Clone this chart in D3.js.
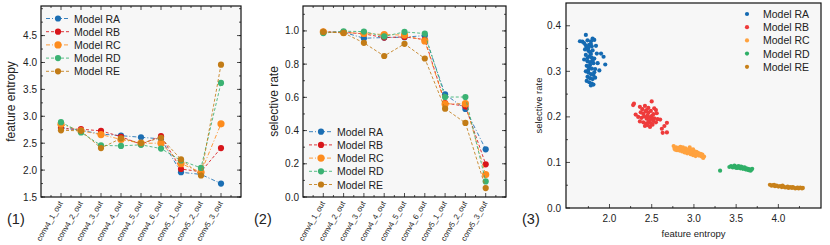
<!DOCTYPE html>
<html>
<head>
<meta charset="utf-8">
<script src="https://cdn.jsdelivr.net/npm/d3@7"></script>
<style>
  body { margin: 0; background: #fff; }
  svg text { font-family: "Liberation Sans", Arial, sans-serif; fill: #222; }
</style>
</head>
<body>
<svg id="chart" width="830" height="245"></svg>
<script>
// layers of the network (x categories of panels 1 and 2)
var layers = ["conv4_1_out", "conv4_2_out", "conv4_3_out", "conv4_4_out", "conv4_5_out",
              "conv4_6_out", "conv5_1_out", "conv5_2_out", "conv5_3_out"];
var models = ["Model RA", "Model RB", "Model RC", "Model RD", "Model RE"];

// panel (1) feature entropy per layer
var entropyRA = [2.79, 2.74, 2.67, 2.64, 2.61, 2.58, 1.96, 1.92, 1.75];
var entropyRB = [2.77, 2.76, 2.73, 2.62, 2.48, 2.63, 2.02, 1.97, 2.41];
var entropyRC = [2.85, 2.73, 2.66, 2.57, 2.50, 2.50, 2.12, 1.96, 2.86];
var entropyRD = [2.89, 2.70, 2.46, 2.45, 2.47, 2.40, 2.18, 2.04, 3.62];
var entropyRE = [2.74, 2.73, 2.41, 2.59, 2.50, 2.60, 2.20, 1.90, 3.96];

// panel (2) selective rate per layer
var rateRA = [0.994, 0.992, 0.956, 0.960, 0.962, 0.972, 0.618, 0.530, 0.287];
var rateRB = [0.994, 0.992, 0.982, 0.960, 0.964, 0.948, 0.566, 0.546, 0.197];
var rateRC = [0.994, 0.990, 0.985, 0.978, 0.975, 0.940, 0.560, 0.562, 0.135];
var rateRD = [0.987, 0.998, 0.996, 0.967, 0.994, 0.984, 0.602, 0.602, 0.094];
var rateRE = [0.994, 0.988, 0.928, 0.849, 0.922, 0.834, 0.532, 0.446, 0.054];

// panel (3) [feature entropy, selective rate] samples
var scatterRA = [[1.72,0.380],[1.65,0.366],[1.68,0.365],[1.70,0.362],[1.74,0.368],[1.78,0.366],[1.80,0.372],
  [1.82,0.369],[1.76,0.358],[1.73,0.352],[1.79,0.355],[1.84,0.356],[1.71,0.348],[1.75,0.345],[1.77,0.342],
  [1.80,0.346],[1.85,0.339],[1.90,0.339],[1.93,0.332],[1.72,0.336],[1.76,0.333],[1.79,0.330],[1.82,0.328],
  [1.70,0.326],[1.74,0.322],[1.77,0.320],[1.81,0.318],[1.86,0.318],[1.95,0.315],[1.73,0.312],[1.76,0.309],
  [1.79,0.306],[1.83,0.305],[1.88,0.302],[1.72,0.300],[1.75,0.297],[1.78,0.294],[1.81,0.292],[1.74,0.288],
  [1.77,0.285],[1.80,0.283],[1.83,0.286],[1.73,0.279],[1.76,0.276],[1.79,0.273],[1.81,0.271],[1.78,0.269],
  [1.75,0.351],[1.78,0.338],[1.74,0.329],[1.80,0.324],[1.77,0.314],[1.75,0.303],[1.82,0.298],[1.78,0.360],
  [1.72,0.357]];
var scatterRB = [[2.28,0.226],[2.29,0.229],[2.31,0.205],[2.36,0.222],[2.39,0.217],[2.42,0.224],[2.46,0.220],
  [2.50,0.234],[2.53,0.219],[2.55,0.215],[2.37,0.210],[2.40,0.207],[2.43,0.212],[2.46,0.209],[2.49,0.213],
  [2.52,0.206],[2.56,0.208],[2.34,0.200],[2.38,0.198],[2.41,0.201],[2.44,0.196],[2.47,0.199],[2.50,0.202],
  [2.53,0.197],[2.57,0.195],[2.60,0.194],[2.36,0.190],[2.40,0.188],[2.43,0.185],[2.46,0.189],[2.49,0.186],
  [2.52,0.191],[2.55,0.188],[2.42,0.180],[2.45,0.182],[2.48,0.178],[2.51,0.183],[2.62,0.174],[2.65,0.180],
  [2.68,0.187],[2.63,0.165],[2.68,0.166],[2.45,0.203],[2.48,0.193],[2.44,0.215],[2.51,0.196]];
var scatterRC = [[2.76,0.136],[2.77,0.130],[2.79,0.133],[2.80,0.127],[2.82,0.132],[2.83,0.126],[2.85,0.130],
  [2.86,0.124],[2.88,0.128],[2.89,0.122],[2.90,0.131],[2.91,0.126],[2.92,0.120],[2.94,0.129],[2.95,0.123],
  [2.96,0.118],[2.97,0.127],[2.98,0.121],[2.99,0.116],[3.00,0.125],[3.01,0.119],[3.02,0.114],[3.03,0.123],
  [3.04,0.117],[3.05,0.121],[3.06,0.115],[3.08,0.119],[3.09,0.113],[3.10,0.117],[3.12,0.113],[3.11,0.110],
  [2.84,0.134],[2.87,0.133],[2.93,0.125],[2.97,0.124],[3.01,0.122],[2.81,0.129],[2.78,0.128],[2.95,0.133],
  [2.99,0.129]];
var scatterRD = [[3.31,0.082],[3.42,0.090],[3.44,0.092],[3.46,0.089],[3.48,0.093],[3.49,0.090],[3.51,0.091],
  [3.52,0.088],[3.54,0.090],[3.55,0.087],[3.57,0.089],[3.58,0.086],[3.59,0.088],[3.60,0.089],[3.61,0.085],
  [3.62,0.087],[3.63,0.084],[3.64,0.086],[3.65,0.083],[3.66,0.085],[3.67,0.082],[3.68,0.084],[3.69,0.086],
  [3.50,0.088],[3.56,0.091],[3.53,0.092],[3.47,0.091]];
var scatterRE = [[3.90,0.051],[3.92,0.049],[3.94,0.050],[3.96,0.048],[3.98,0.049],[4.00,0.047],[4.02,0.048],
  [4.04,0.046],[4.06,0.047],[4.08,0.045],[4.10,0.046],[4.12,0.044],[4.14,0.046],[4.16,0.044],[4.18,0.045],
  [4.20,0.043],[4.22,0.044],[4.24,0.043],[4.26,0.045],[4.28,0.043],[4.29,0.044],[3.95,0.051],[4.05,0.049],
  [4.11,0.047],[4.17,0.046],[4.23,0.045]];

var entropyTicks = [1.5, 2.0, 2.5, 3.0, 3.5, 4.0, 4.5];
var rateTicks = [0.0, 0.2, 0.4, 0.6, 0.8, 1.0];
var scatterXTicks = [2.0, 2.5, 3.0, 3.5, 4.0];
var scatterYTicks = [0.0, 0.1, 0.2, 0.3, 0.4];

var lineColors = ["#1b6eb3", "#d8161b", "#fd8c1e", "#3bb273", "#c27c17"];
var dotColors = ["#146ab2", "#ee3b3b", "#ffa23f", "#2faf67", "#c8811a"];
var dashes = ["4,2,1,2", "3,2", "4,2,1,2", "3,2", "3,2"];

var svg = d3.select("#chart");

// frame with inward major/minor ticks; all four sides for the line panels
function frame(g, x, y, xMajor, xMinor, yMajor, yMinor, allSides) {
  var x0 = x.range()[0], x1 = x.range()[1], y0 = y.range()[0], y1 = y.range()[1];
  g.append("rect").attr("x", x0).attr("y", y1).attr("width", x1 - x0).attr("height", y0 - y1)
    .attr("fill", "#f7f7f7");
  var t = g.append("g").attr("stroke", "#222").attr("stroke-width", 0.8);
  function ticks(vals, len) {
    vals.forEach(function(v) {
      var px = x(v);
      t.append("line").attr("x1", px).attr("x2", px).attr("y1", y0).attr("y2", y0 - len);
      if (allSides) t.append("line").attr("x1", px).attr("x2", px).attr("y1", y1).attr("y2", y1 + len);
    });
  }
  function yticks(vals, len) {
    vals.forEach(function(v) {
      var py = y(v);
      t.append("line").attr("y1", py).attr("y2", py).attr("x1", x0).attr("x2", x0 + len);
      if (allSides) t.append("line").attr("y1", py).attr("y2", py).attr("x1", x1).attr("x2", x1 - len);
    });
  }
  ticks(xMajor, 4); ticks(xMinor, 2);
  yticks(yMajor, 4); yticks(yMinor, 2);
}

function border(g, x, y) {
  var x0 = x.range()[0], x1 = x.range()[1], y0 = y.range()[0], y1 = y.range()[1];
  g.append("rect").attr("x", x0).attr("y", y1).attr("width", x1 - x0).attr("height", y0 - y1)
    .attr("fill", "none").attr("stroke", "#111").attr("stroke-width", 1.2);
}

function minorBetween(domain, step) {
  var out = [];
  for (var v = Math.ceil(domain[0] / step - 1e-9) * step; v <= domain[1] + 1e-9; v += step) out.push(+v.toFixed(4));
  return out;
}

function linePanel(left, right, yDomain, yMajor, yMinorStep, series, yLabel, labelX, legendPos, tag, tagX) {
  var g = svg.append("g");
  var x = d3.scaleLinear().domain([-1, 9]).range([left, right]);
  var y = d3.scaleLinear().domain(yDomain).range([197, 6]);
  var idx = d3.range(layers.length);
  frame(g, x, y, idx, minorBetween([-0.9, 8.9], 0.5).filter(function(v) { return v % 1 !== 0; }),
        yMajor, minorBetween(yDomain, yMinorStep), true);

  series.forEach(function(vals, i) {
    var line = d3.line().x(function(d, j) { return x(j); }).y(function(d) { return y(d); });
    g.append("path").attr("d", line(vals)).attr("fill", "none").attr("stroke", lineColors[i])
      .attr("stroke-width", 1).attr("stroke-dasharray", dashes[i]).attr("opacity", 0.85);
    g.selectAll(null).data(vals).enter().append("circle")
      .attr("cx", function(d, j) { return x(j); }).attr("cy", function(d) { return y(d); })
      .attr("r", i === 2 ? 3.6 : 3.1).attr("fill", lineColors[i]);
  });
  border(g, x, y);

  g.selectAll(null).data(yMajor).enter().append("text")
    .attr("x", left - 4).attr("y", function(d) { return y(d) + 3.5; })
    .attr("text-anchor", "end").attr("font-size", 10).text(function(d) { return d.toFixed(1); });
  g.selectAll(null).data(layers).enter().append("text")
    .attr("transform", function(d, j) { return "translate(" + (x(j) + 2) + ",203) rotate(-60)"; })
    .attr("text-anchor", "end").attr("font-size", 7.8).text(function(d) { return d; });
  g.append("text").attr("transform", "translate(" + labelX + "," + ((6 + 197) / 2) + ") rotate(-90)")
    .attr("text-anchor", "middle").attr("font-size", 12).text(yLabel);
  g.append("text").attr("x", tagX).attr("y", 224).attr("font-size", 14.5).text(tag);

  // legend
  var lg = g.append("g").attr("transform", "translate(" + legendPos[0] + "," + legendPos[1] + ")");
  models.forEach(function(m, i) {
    var row = lg.append("g").attr("transform", "translate(0," + (i * 13.2) + ")");
    row.append("line").attr("x1", 0).attr("x2", 23).attr("stroke", lineColors[i]).attr("stroke-width", 1)
      .attr("stroke-dasharray", dashes[i]).attr("opacity", 0.85);
    row.append("circle").attr("cx", 12).attr("r", i === 2 ? 3.6 : 3.1).attr("fill", lineColors[i]);
    row.append("text").attr("x", 28).attr("y", 4).attr("font-size", 10.5).text(m);
  });
}

linePanel(41, 241, [1.5, 5.05], entropyTicks, 0.25,
  [entropyRA, entropyRB, entropyRC, entropyRD, entropyRE], "feature entropy", 15, [46, 18.5], "(1)", 7);
linePanel(303, 506, [0, 1.15], rateTicks, 0.1,
  [rateRA, rateRB, rateRC, rateRD, rateRE], "selective rate", 278, [309, 131.7], "(2)", 254);

// panel (3) scatter
(function() {
  var g = svg.append("g");
  var x = d3.scaleLinear().domain([1.485, 4.505]).range([566, 821]);
  var y = d3.scaleLinear().domain([0, 0.45]).range([208, 3]);
  frame(g, x, y, scatterXTicks, [1.75, 2.25, 2.75, 3.25, 3.75, 4.25], scatterYTicks,
        [0.05, 0.15, 0.25, 0.35], false);
  [scatterRA, scatterRB, scatterRC, scatterRD, scatterRE].forEach(function(pts, i) {
    g.selectAll(null).data(pts).enter().append("circle")
      .attr("cx", function(d) { return x(d[0]); }).attr("cy", function(d) { return y(d[1]); })
      .attr("r", 2.1).attr("fill", dotColors[i]);
  });
  border(g, x, y);
  g.selectAll(null).data(scatterYTicks).enter().append("text")
    .attr("x", 561).attr("y", function(d) { return y(d) + 3.5; })
    .attr("text-anchor", "end").attr("font-size", 10).text(function(d) { return d.toFixed(1); });
  g.selectAll(null).data(scatterXTicks).enter().append("text")
    .attr("x", function(d) { return x(d); }).attr("y", 222)
    .attr("text-anchor", "middle").attr("font-size", 10).text(function(d) { return d.toFixed(1); });
  g.append("text").attr("x", (566 + 821) / 2).attr("y", 237).attr("text-anchor", "middle")
    .attr("font-size", 9.5).text("feature entropy");
  g.append("text").attr("transform", "translate(542," + ((3 + 208) / 2) + ") rotate(-90)")
    .attr("text-anchor", "middle").attr("font-size", 9.5).text("selective rate");
  g.append("text").attr("x", 522).attr("y", 224).attr("font-size", 14.5).text("(3)");

  var lg = g.append("g").attr("transform", "translate(747,14)");
  models.forEach(function(m, i) {
    lg.append("circle").attr("cx", 0).attr("cy", i * 13.2).attr("r", 2.1).attr("fill", dotColors[i]);
    lg.append("text").attr("x", 16).attr("y", i * 13.2 + 4).attr("font-size", 10.5).text(m);
  });
})();
</script>
</body>
</html>
